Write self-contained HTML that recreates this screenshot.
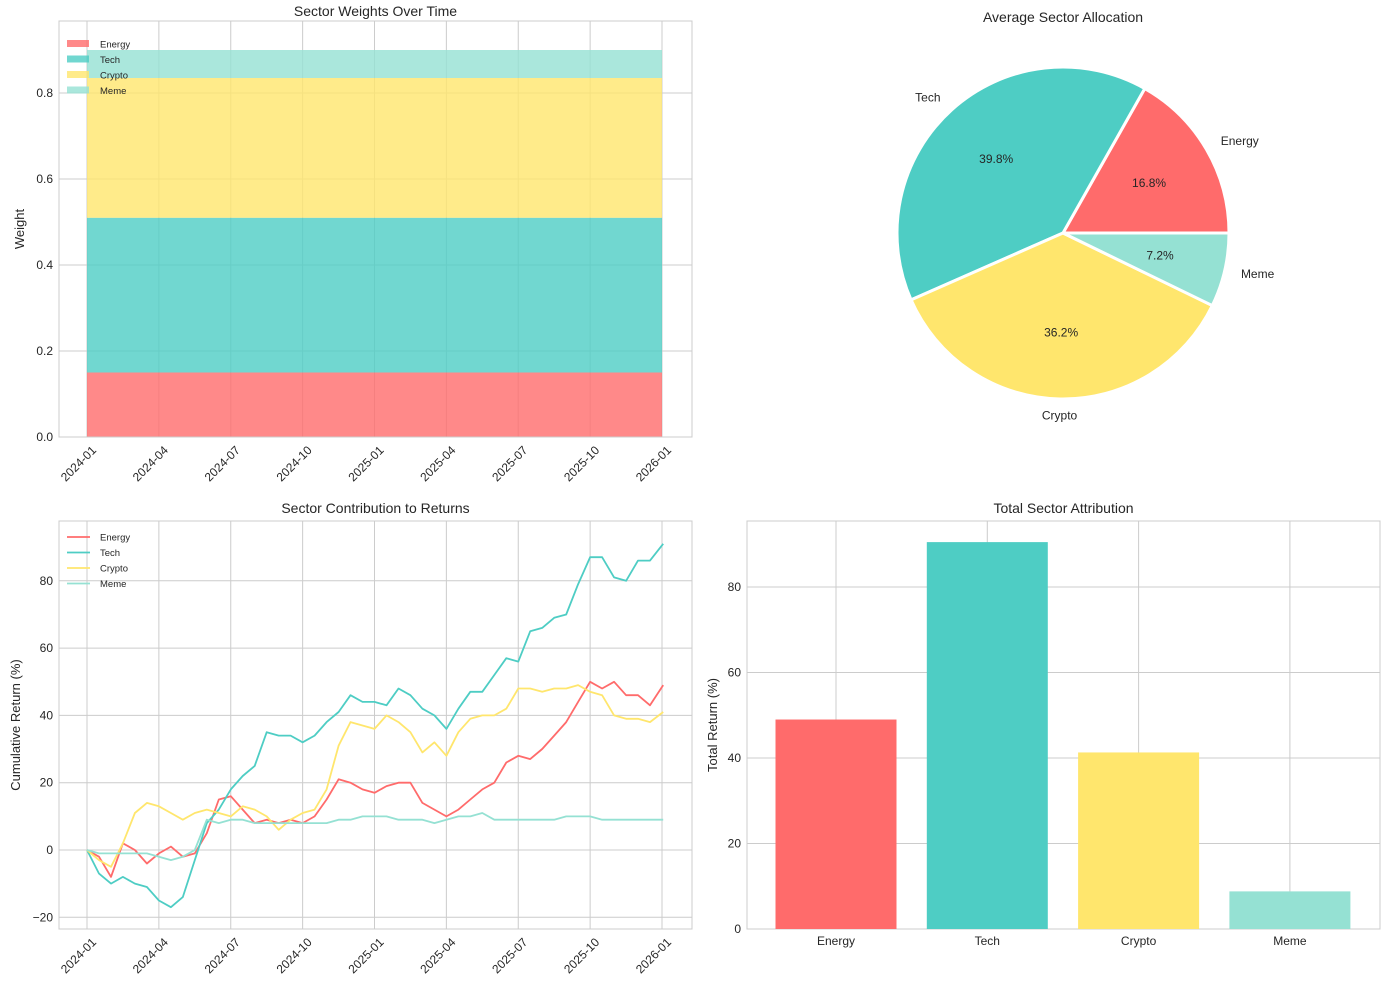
<!DOCTYPE html>
<html><head><meta charset="utf-8"><style>
body{margin:0;background:#fff}
svg{display:block;font-family:"Liberation Sans",sans-serif;fill:#262626}
text{fill:#262626}
</style></head><body>
<svg id="s" width="1390" height="990" xmlns="http://www.w3.org/2000/svg"></svg>
<script>
// ---- data ----
const sectors=["Energy","Tech","Crypto","Meme"];
const colors=["#FF6B6B","#4ECDC4","#FFE66D","#95E1D3"];
const weightDates=[0,24]; // months from 2024-01
const weightEnergy=[0.15,0.15];
const weightTech=[0.36,0.36];
const weightCrypto=[0.325,0.325];
const weightMeme=[0.065,0.065];
const dateTicks=["2024-01","2024-04","2024-07","2024-10","2025-01","2025-04","2025-07","2025-10","2026-01"];
const weightTicks=[0,0.2,0.4,0.6,0.8];
const pieShares=[16.8,39.8,36.2,7.2];
const retMonths=[0,0.5,1,1.5,2,2.5,3,3.5,4,4.5,5,5.5,6,6.5,7,7.5,8,8.5,9,9.5,10,10.5,11,11.5,12,12.5,13,13.5,14,14.5,15,15.5,16,16.5,17,17.5,18,18.5,19,19.5,20,20.5,21,21.5,22,22.5,23,23.5,24.05];
const retEnergy=[0,-2,-8,2,0,-4,-1,1,-2,-1,5,15,16,12,8,9,8,9,8,10,15,21,20,18,17,19,20,20,14,12,10,12,15,18,20,26,28,27,30,34,38,44,50,48,50,46,46,43,49];
const retTech=[0,-7,-10,-8,-10,-11,-15,-17,-14,-3,8,12,18,22,25,35,34,34,32,34,38,41,46,44,44,43,48,46,42,40,36,42,47,47,52,57,56,65,66,69,70,79,87,87,81,80,86,86,91];
const retCrypto=[0,-3,-5,2,11,14,13,11,9,11,12,11,10,13,12,10,6,9,11,12,18,31,38,37,36,40,38,35,29,32,28,35,39,40,40,42,48,48,47,48,48,49,47,46,40,39,39,38,41];
const retMeme=[0,-1,-1,-1,-1,-1,-2,-3,-2,0,9,8,9,9,8,8,8,8,8,8,8,9,9,10,10,10,9,9,9,8,9,10,10,11,9,9,9,9,9,9,10,10,10,9,9,9,9,9,9];
const retTicks=[-20,0,20,40,60,80];
const totalReturns=[49,90.5,41.3,8.8];
const totalTicks=[0,20,40,60,80];

const S=document.getElementById('s');const NS="http://www.w3.org/2000/svg";
function el(tag,attrs,parent,txt){const e=document.createElementNS(NS,tag);for(const k in attrs)e.setAttribute(k,attrs[k]);if(txt!==undefined)e.textContent=txt;(parent||S).appendChild(e);return e;}

function frame(name){
  const g=el('g',{});
  return g;
}
const TF=12;
// ---------- Panel 1: stacked area ----------
(function(){
  const X0=59,X1=692,Y0=21,Y1=437;
  const g=frame('sector-weights-chart');
  const xs=m=>87+m*(575/24), ys=v=>437-v*430;
  dateTicks.forEach((t,i)=>{const x=xs(i*3);
    const l=el('line',{x1:x,x2:x,y1:Y0,y2:Y1,stroke:'#cccccc','stroke-width':1},g);
    const tx=el('text',{x:x+4,y:Y1+8,'font-size':TF,'text-anchor':'end',transform:`rotate(-45 ${x+4} ${Y1+8})`,dy:'0.7em'},g,t);});
  weightTicks.forEach(v=>{const y=ys(v);
    const l=el('line',{x1:X0,x2:X1,y1:y,y2:y,stroke:'#cccccc'},g);
    const t=el('text',{x:X0-6,y:y+4,'font-size':TF,'text-anchor':'end'},g,v.toFixed(1));});
  const series=[weightEnergy,weightTech,weightCrypto,weightMeme];
  let base=weightDates.map(()=>0);
  series.forEach((arr,si)=>{const top=arr.map((v,i)=>base[i]+v);
    let d='M'+weightDates.map((m,i)=>xs(m)+','+ys(top[i])).join('L');
    d+='L'+weightDates.slice().reverse().map((m,j)=>{const i=weightDates.length-1-j;return xs(m)+','+ys(base[i]);}).join('L')+'Z';
    const p=el('path',{d,fill:colors[si],'fill-opacity':0.8},g);
    base=top;});
  el('rect',{x:X0,y:Y0,width:X1-X0,height:Y1-Y0,fill:'none',stroke:'#cccccc'},g);
  const t=el('text',{x:(X0+X1)/2,y:Y0-5,'font-size':14,'text-anchor':'middle'},g,'Sector Weights Over Time');
  const yl=el('text',{x:24,y:(Y0+Y1)/2,'font-size':13,'text-anchor':'middle',transform:`rotate(-90 24 ${(Y0+Y1)/2})`},g,'Weight');
  sectors.forEach((s,i)=>{const y=44+i*15.5;
    const r=el('rect',{x:67,y:y-4,width:22,height:7,fill:colors[i],'fill-opacity':0.8},g);
    const tx=el('text',{x:100,y:y+3.5,'font-size':9.5},g,s);});
})();
// ---------- Panel 2: pie ----------
(function(){
  const g=frame('sector-allocation-pie');
  const cx=1063,cy=233,r=166;
  const t=el('text',{x:1063,y:22,'font-size':14,'text-anchor':'middle'},g,'Average Sector Allocation');
  const tot=pieShares.reduce((a,b)=>a+b,0);let a0=0;
  pieShares.forEach((v,i)=>{const a1=a0+v/tot*2*Math.PI;
    const p=(a,k)=>[cx+k*Math.cos(a),cy-k*Math.sin(a)];
    const [x0,y0]=p(a0,r),[x1,y1]=p(a1,r);
    const large=(a1-a0)>Math.PI?1:0;
    const w=el('path',{d:`M${cx},${cy}L${x0},${y0}A${r},${r} 0 ${large} 0 ${x1},${y1}Z`,fill:colors[i],stroke:'#fff','stroke-width':3,'stroke-linejoin':'round'},g);
    
    const am=(a0+a1)/2;const [lx,ly]=p(am,r*1.1);const c=Math.cos(am);
    const anchor=c>0.1?'start':(c<-0.1?'end':'middle');
    const lt=el('text',{x:lx,y:ly+4,'font-size':12,'text-anchor':anchor},g,sectors[i]);
    const [px,py]=p(am,r*0.6);
    const pt=el('text',{x:px,y:py+4,'font-size':12,'text-anchor':'middle'},g,v.toFixed(1)+'%');
    a0=a1;});
})();
// ---------- Panel 3: lines ----------
(function(){
  const X0=59,X1=692,Y0=521,Y1=929;
  const g=frame('sector-contribution-chart');
  const xs=m=>87+m*(575/24), ys=v=>850-v*3.365;
  dateTicks.forEach((t,i)=>{const x=xs(i*3);
    const l=el('line',{x1:x,x2:x,y1:Y0,y2:Y1,stroke:'#cccccc'},g);
    const tx=el('text',{x:x+4,y:Y1+8,'font-size':TF,'text-anchor':'end',transform:`rotate(-45 ${x+4} ${Y1+8})`,dy:'0.7em'},g,t);});
  retTicks.forEach(v=>{const y=ys(v);
    const l=el('line',{x1:X0,x2:X1,y1:y,y2:y,stroke:'#cccccc'},g);
    const t=el('text',{x:X0-6,y:y+4,'font-size':TF,'text-anchor':'end'},g,String(v).replace('-','\u2212'));});
  el('rect',{x:X0,y:Y0,width:X1-X0,height:Y1-Y0,fill:'none',stroke:'#cccccc'},g);
  [retEnergy,retTech,retCrypto,retMeme].forEach((arr,si)=>{
    const d='M'+arr.map((v,i)=>xs(retMonths[i]).toFixed(1)+','+ys(v).toFixed(1)).join('L');
    const p=el('path',{d,fill:'none',stroke:colors[si],'stroke-width':1.8,'stroke-linejoin':'round'},g);
    });
  const t=el('text',{x:(X0+X1)/2,y:Y0-8,'font-size':14,'text-anchor':'middle'},g,'Sector Contribution to Returns');
  const yl=el('text',{x:20,y:(Y0+Y1)/2,'font-size':13,'text-anchor':'middle',transform:`rotate(-90 20 ${(Y0+Y1)/2})`},g,'Cumulative Return (%)');
  sectors.forEach((s,i)=>{const y=537+i*15.5;
    const l=el('line',{x1:67,x2:90,y1:y,y2:y,stroke:colors[i],'stroke-width':1.8},g);
    const tx=el('text',{x:100,y:y+3.5,'font-size':9.5},g,s);});
})();
// ---------- Panel 4: bars ----------
(function(){
  const X0=747,X1=1380,Y0=521,Y1=929;
  const g=frame('total-attribution-chart');
  const ys=v=>929-v*4.275, xc=i=>836+i*151.3, bw=121;
  sectors.forEach((s,i)=>{const x=xc(i);
    const l=el('line',{x1:x,x2:x,y1:Y0,y2:Y1,stroke:'#cccccc'},g);
    const t=el('text',{x,y:Y1+16,'font-size':TF,'text-anchor':'middle'},g,s);});
  totalTicks.forEach(v=>{const y=ys(v);
    const l=el('line',{x1:X0,x2:X1,y1:y,y2:y,stroke:'#cccccc'},g);
    const t=el('text',{x:X0-6,y:y+4,'font-size':TF,'text-anchor':'end'},g,String(v));});
  el('rect',{x:X0,y:Y0,width:X1-X0,height:Y1-Y0,fill:'none',stroke:'#cccccc'},g);
  totalReturns.forEach((v,i)=>{const b=el('rect',{x:xc(i)-bw/2,y:ys(v),width:bw,height:ys(0)-ys(v),fill:colors[i]},g);
    });
  const t=el('text',{x:(X0+X1)/2,y:Y0-8,'font-size':14,'text-anchor':'middle'},g,'Total Sector Attribution');
  const yl=el('text',{x:717,y:(Y0+Y1)/2,'font-size':13,'text-anchor':'middle',transform:`rotate(-90 717 ${(Y0+Y1)/2})`},g,'Total Return (%)');
})();
</script>
</body></html>
